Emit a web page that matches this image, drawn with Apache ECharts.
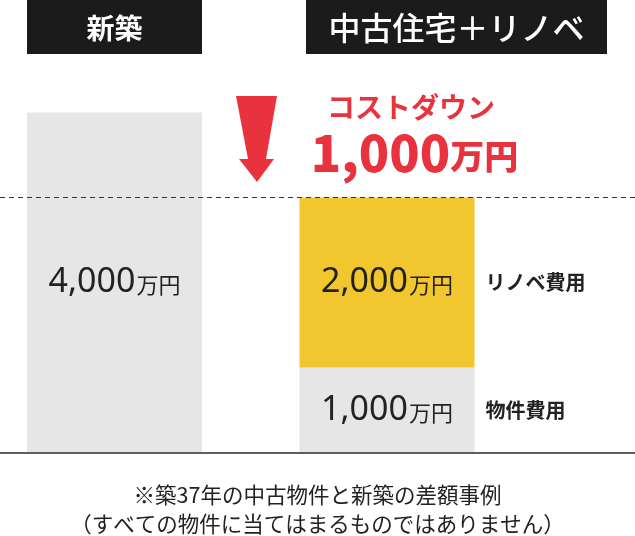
<!DOCTYPE html>
<html lang="ja">
<head>
<meta charset="UTF-8">
<title>新築と中古住宅＋リノベの費用比較</title>
<script src="https://cdn.jsdelivr.net/npm/echarts@6/dist/echarts.min.js"></script>
<style>
  html, body { margin: 0; padding: 0; background: #fff; }
  #chart { width: 635px; height: 536px; }
</style>
</head>
<body>
<div id="chart"></div>
<script>
// カテゴリ（左：新築、右：中古住宅＋リノベ）
const categories = ['新築', '中古住宅＋リノベ']
// 各内訳の金額（万円）
const shinchiku = [4000, '-']
const bukkenHi = ['-', 1000]
const renoveHi = ['-', 2000]
// コストダウン額と、点線を引く中古＋リノベの合計
const costDown = 1000
const chukoTotal = 3000
const notes = ['※築37年の中古物件と新築の差額事例', '（すべての物件に当てはまるものではありません）']

const FONT = '"Noto Sans CJK JP", "Noto Sans", sans-serif'
const NUM_FONT = '"Noto Sans", "Noto Sans CJK JP", sans-serif'
const RED = '#e8333f'
const GRAY = '#e6e6e6'
const YELLOW = '#f2c62f'
const INK = '#222'

const fmt = v => Number(v).toLocaleString('en-US')

// 棒の中の金額ラベル
const valueLabel = {
	show: true,
	position: 'inside',
	formatter: p => `{n|${fmt(p.value)}}{u|万円}`,
	rich: {
		n: { fontFamily: NUM_FONT, fontSize: 34, color: INK, padding: [0, 1, 0, 0] },
		u: { fontFamily: FONT, fontSize: 22, color: INK, padding: [5, 0, 0, 0] }
	}
}
// 棒の右の内訳名ラベル（透明の棒に載せる）
const nameLabel = {
	show: true,
	position: 'right',
	distance: 11,
	formatter: '{a}',
	fontFamily: FONT,
	fontSize: 20,
	fontWeight: 'bold',
	color: INK
}
const ghost = { color: 'rgba(0,0,0,0)' }
const barBase = { type: 'bar', xAxisIndex: 1, yAxisIndex: 1, z: 3, barWidth: 175, barGap: '-100%', clip: false }

const chart = echarts.init(document.getElementById('chart'))
chart.setOption({
	animation: false,
	grid: [
		// 線用（横幅いっぱい）
		{ left: 0, right: 0, top: 27.5, bottom: 83.5 },
		// 棒用（両端のカテゴリが棒の中心になる）
		{ left: 114.5, right: 248, top: 27.5, bottom: 83.5 }
	],
	xAxis: [
		{
			gridIndex: 0, type: 'value', min: 0, max: 1, z: 5,
			axisLine: { show: true, lineStyle: { color: '#2a2a2a', width: 1.5 } },
			axisTick: { show: false }, axisLabel: { show: false }, splitLine: { show: false }
		},
		{
			gridIndex: 1, type: 'category', data: categories, boundaryGap: false,
			axisLine: { show: false }, axisTick: { show: false }, axisLabel: { show: false }, splitLine: { show: false }
		}
	],
	yAxis: [
		{ gridIndex: 0, type: 'value', min: 0, max: 5000, show: false },
		{ gridIndex: 1, type: 'value', min: 0, max: 5000, show: false }
	],
	series: [
		{
			// コストダウンの基準点線
			type: 'line', xAxisIndex: 0, yAxisIndex: 0, data: [], z: 1,
			markLine: {
				silent: true, symbol: 'none', label: { show: false },
				lineStyle: { type: [5, 4], color: '#333', width: 1 },
				data: [{ yAxis: chukoTotal }]
			}
		},
		Object.assign({ name: '新築', stack: 'total', data: shinchiku, itemStyle: { color: GRAY }, label: valueLabel }, barBase),
		Object.assign({ name: '物件費用', stack: 'total', data: bukkenHi, itemStyle: { color: GRAY }, label: valueLabel }, barBase),
		Object.assign({ name: 'リノベ費用', stack: 'total', data: renoveHi, itemStyle: { color: YELLOW }, label: valueLabel }, barBase),
		Object.assign({ name: '物件費用', stack: 'names', data: bukkenHi, silent: true, itemStyle: ghost, label: nameLabel }, barBase),
		Object.assign({ name: 'リノベ費用', stack: 'names', data: renoveHi, silent: true, itemStyle: ghost, label: nameLabel }, barBase)
	],
	graphic: [
		// 見出し
		{ type: 'rect', left: 27, top: 0, shape: { width: 175, height: 54 }, style: { fill: '#1b1b1b' } },
		{
			type: 'text', x: 114.5, y: 28,
			style: { text: categories[0], fill: '#fff', font: `bold 28px ${FONT}`, align: 'center', verticalAlign: 'middle' }
		},
		{ type: 'rect', left: 306, top: 0, shape: { width: 301, height: 54 }, style: { fill: '#1b1b1b' } },
		{
			type: 'text', x: 456.5, y: 28,
			style: { text: categories[1], fill: '#fff', font: `500 32px ${FONT}`, align: 'center', verticalAlign: 'middle' }
		},
		// 矢印
		{
			type: 'polygon',
			shape: { points: [[236, 96], [277, 96], [266, 159], [274, 159], [257, 182], [239, 159], [248, 159]] },
			style: { fill: RED }
		},
		// コストダウン
		{
			type: 'text', x: 411, y: 107,
			style: { text: 'コストダウン', fill: RED, font: `bold 28px ${FONT}`, align: 'center', verticalAlign: 'middle' }
		},
		{
			type: 'text', x: 414.5, y: 153,
			style: {
				text: `{n|${fmt(costDown)}}{u|万円}`, align: 'center', verticalAlign: 'middle',
				rich: {
					n: { fontFamily: FONT, fontSize: 50, fontWeight: 900, fill: RED },
					u: { fontFamily: FONT, fontSize: 34, fontWeight: 900, fill: RED, padding: [6, 0, 0, 0] }
				}
			}
		},
		// 注記
		{
			type: 'text', x: 317.5, y: 495,
			style: { text: notes[0], fill: INK, font: `21.5px ${FONT}`, align: 'center', verticalAlign: 'middle' }
		},
		{
			type: 'text', x: 317.5, y: 524,
			style: { text: notes[1], fill: INK, font: `21.5px ${FONT}`, align: 'center', verticalAlign: 'middle' }
		}
	]
})
</script>
</body>
</html>
